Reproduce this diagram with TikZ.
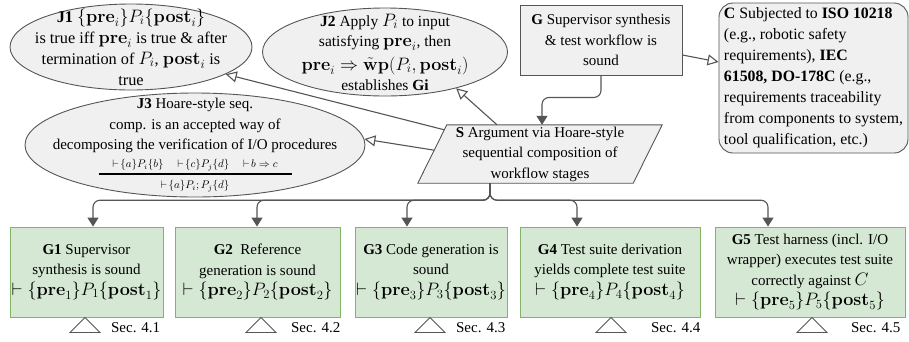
\RequirePackage{fix-cm}
\documentclass[tikz,border=0pt]{standalone}
\usepackage[no-math]{fontspec}
\setmainfont{Liberation Serif}
\usetikzlibrary{arrows.meta,shapes.geometric,calc}
\definecolor{linec}{HTML}{555555}
\definecolor{grayfill}{HTML}{F0F0F0}
\definecolor{greenfill}{HTML}{D5E8D4}
\definecolor{greenline}{HTML}{82B366}
\newcommand{\M}[1]{{\fontsize{18}{20.5}\selectfont$#1$}}
\begin{document}
\begin{tikzpicture}[x=1pt,y=-1pt,
  every node/.style={font=\fontsize{15}{20.5}\selectfont, text=black},
  just/.style={ellipse, draw=linec, fill=grayfill, line width=0.9pt, inner sep=-40pt, align=center},
  goalbox/.style={rectangle, draw=linec, fill=grayfill, line width=0.9pt, inner sep=0pt, align=center},
  subgoal/.style={rectangle, draw=greenline, fill=greenfill, line width=0.9pt, inner sep=0pt, align=center, minimum height=90pt},
  ctxbox/.style={rectangle, rounded corners=14pt, draw=linec, fill=grayfill, line width=0.9pt, inner sep=0pt, align=left},
  conn/.style={draw=linec, line width=1.1pt},
  openarr/.style={conn, -{Triangle[open, length=11pt, width=11pt, fill=white]}},
  flow/.style={conn, rounded corners=7pt, -{Triangle[length=9pt, width=11pt, fill=linec]}},
  solref/.style={draw=linec, fill=white, line width=0.9pt},
  seclab/.style={anchor=east, inner sep=0pt}
]
\useasboundingbox (0,0) rectangle (909,341);

% justifications
\node[just, minimum width=242pt, minimum height=86pt, font=\fontsize{16.3}{21}\selectfont] (J1) at (131,47)
  {\textbf{J1} \M{\{\mathbf{pre}_i\}P_i\{\mathbf{post}_i\}}\\
   is true iff \M{\mathbf{pre}_i} is true \& after\\
   termination of \M{P_i}, \M{\mathbf{post}_i} is\\
   true};
\node[just, minimum width=340pt, minimum height=104pt] (J3) at (195,145)
  {\textbf{J3} Hoare-style seq.\\
   comp. is an accepted way of\\
   decomposing the verification of I/O procedures\\[-3pt]
   {\fontsize{11}{12}\selectfont $\vdash\!\{a\}P_i\{b\}$\quad\ $\vdash\!\{c\}P_j\{d\}$\quad\ $\vdash\! b\Rightarrow c$}\\[-13pt]
   \rule{193pt}{1.6pt}\\[-7pt]
   {\fontsize{11}{12}\selectfont $\vdash\!\{a\}P_i;P_j\{d\}$}};
\node[just, minimum width=245pt, minimum height=88pt, font=\fontsize{15.5}{20}\selectfont] (J2) at (385,52)
  {\textbf{J2} Apply \M{P_i} to input\\
   satisfying \M{\mathbf{pre}_i}, then\\[4pt]
   \M{\mathbf{pre}_i\Rightarrow\tilde{\mathbf{w}}\mathbf{p}(P_i,\mathbf{post}_i)}\\
   establishes \textbf{Gi}};

% goal and context
\node[goalbox, minimum width=162pt, minimum height=70pt] (G) at (601,40)
  {\textbf{G} Supervisor synthesis\\ \& test workflow is\\ sound};
\node[ctxbox, minimum width=189pt, minimum height=150pt, font=\fontsize{15.8}{21}\selectfont] (C) at (813.5,78)
  {\textbf{C} Subjected to \textbf{ISO 10218}\\
   (e.g., robotic safety\\
   requirements), \textbf{IEC}\\
   \textbf{61508, DO-178C} (e.g.,\\
   requirements traceability\\
   from components to system,\\
   tool qualification, etc.)};

% strategy (parallelogram drawn from the node's corners)
\node[inner sep=0pt, minimum width=215pt, minimum height=58pt, align=center] (S) at (540,154) {};
\draw[draw=linec, fill=grayfill, line width=0.9pt]
  ($(S.south west)+(-14.5,0)$) -- ($(S.north west)+(14.5,0)$) --
  ($(S.north east)+(14.5,0)$) -- ($(S.south east)+(-14.5,0)$) -- cycle;
\node[align=center, inner sep=0pt] at (S) {\textbf{S} Argument via Hoare-style\\ sequential composition of\\ workflow stages};

% sub-goals
\node[subgoal, minimum width=153pt] (G1) at (86.5,272)
  {\textbf{G1} Supervisor\\ synthesis is sound\\ \M{\vdash \{\mathbf{pre}_1\}P_1\{\mathbf{post}_1\}}};
\node[subgoal, minimum width=165pt] (G2) at (257.5,272)
  {\textbf{G2}\ \ Reference\\ generation is sound\\ \M{\vdash \{\mathbf{pre}_2\}P_2\{\mathbf{post}_2\}}};
\node[subgoal, minimum width=152pt] (G3) at (431,272)
  {\textbf{G3} Code generation is\\ sound\\ \M{\vdash \{\mathbf{pre}_3\}P_3\{\mathbf{post}_3\}}};
\node[subgoal, minimum width=180pt] (G4) at (610,272)
  {\textbf{G4} Test suite derivation\\ yields complete test suite\\ \M{\vdash \{\mathbf{pre}_4\}P_4\{\mathbf{post}_4\}}};
\node[subgoal, minimum width=190pt] (G5) at (810,272)
  {\textbf{G5} Test harness (incl. I/O\\ wrapper) executes test suite\\ correctly against \M{C}\\ \M{\vdash \{\mathbf{pre}_5\}P_5\{\mathbf{post}_5\}}};

% solution markers
\foreach \g/\dx in {G1/-1.5, G2/3.5, G3/-1, G4/1, G5/2}{
  \draw[solref] ($(\g.south)+(\dx,0)$) -- ++(-15,15) -- ++(30,0) -- cycle;
}
\node[seclab] (s1) at ($(G1.south east)+(-3,10)$) {Sec. 4.1};
\node[seclab] (s2) at ($(G2.south east)+(0,10)$) {Sec. 4.2};
\node[seclab] (s3) at ($(G3.south east)+(-2,10)$) {Sec. 4.3};
\node[seclab] (s4) at ($(G4.south east)+(0,10)$) {Sec. 4.4};
\node[seclab] (s5) at ($(G5.south east)+(-5,10)$) {Sec. 4.5};

% connectors
\draw[openarr] ($(G.east)+(0,15)$) -- ($(C.west)+(0,-16)$);
\draw[flow] (G.south) -- ++(0,22) -| ($(S.north)+(2,0)$);
\draw[openarr] ($(S.north)+(-43,0)$) -- (J2.-27);
\draw[openarr] ($(S.north west)+(12,5)$) -- (J1.-16);
\draw[openarr] ($(S.south west)+(2,-33)$) -- (J3.2);
\coordinate (sb) at ($(S.south)+(-50,0)$);
\draw[flow] (sb) -- ++(0,17) -| ($(G1.north)+(6.5,0)$);
\draw[flow] (sb) -- ++(0,17) -| ($(G2.north)+(-0.5,0)$);
\draw[flow] (sb) -- ++(0,17) -| ($(G3.north)+(-24,0)$);
\draw[flow] (sb) -- ++(0,17) -| ($(G4.north)+(-33,0)$);
\draw[flow] (sb) -- ++(0,17) -| ($(G5.north)+(-42,0)$);
\end{tikzpicture}
\end{document}
